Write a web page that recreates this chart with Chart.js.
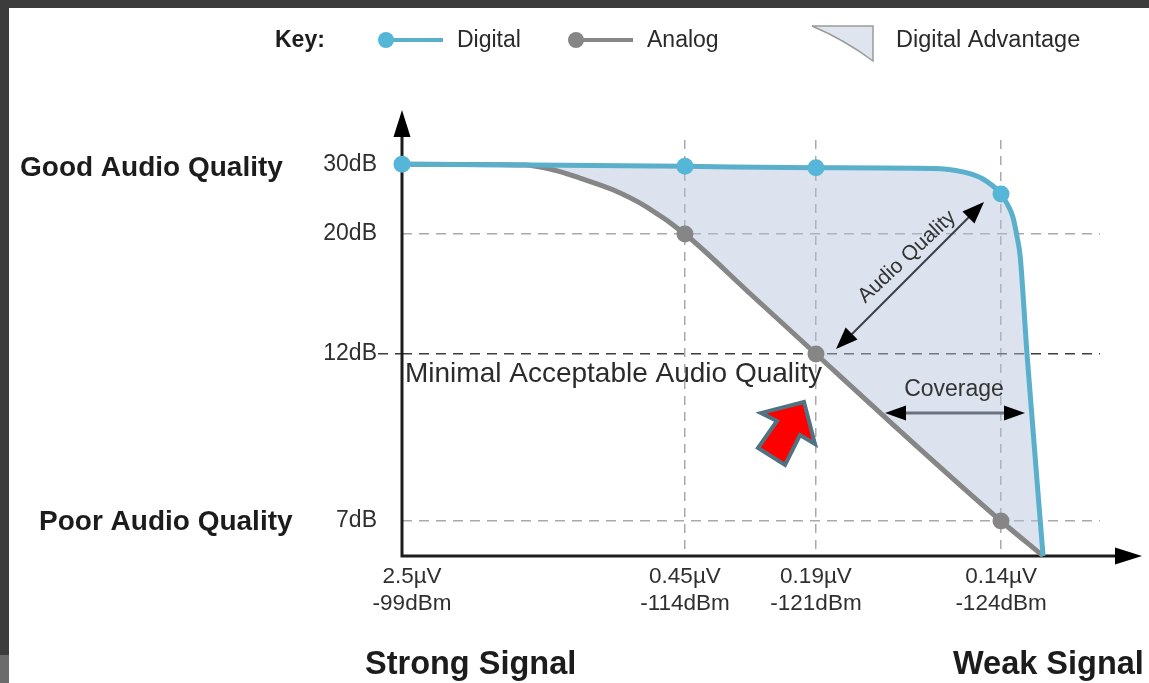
<!DOCTYPE html>
<html>
<head>
<meta charset="utf-8">
<title>Digital vs Analog audio quality</title>
<script src="https://cdn.jsdelivr.net/npm/chart.js@4"></script>
<style>
  html, body { margin: 0; padding: 0; background: #3c3c3c; overflow: hidden; }
  #wrap { position: absolute; left: 0; top: 0; width: 1149px; height: 683px; }
  canvas { filter: blur(0.5px); }
</style>
</head>
<body>
<div id="wrap"><canvas id="qualityChart" width="1149" height="683"></canvas></div>
<script>
// signal level (dBm) and audio quality (dB)
const xTicks = [-99, -114, -121, -124];
const xLabels = [["2.5\u00b5V", "-99dBm"], ["0.45\u00b5V", "-114dBm"], ["0.19\u00b5V", "-121dBm"], ["0.14\u00b5V", "-124dBm"]];
const yTicks = [30, 20, 12, 7];
const yLabels = ["30dB", "20dB", "12dB", "7dB"];

const digitalX = [-99, -105.8, -114, -121, -122.9, -123.38, -123.7, -124, -124.11, -124.19, -124.26, -124.31, -124.42, -124.68];
const digitalY = [30.1, 30, 29.8, 29.6, 29.5, 29, 28, 25.8, 24.2, 22.5, 19.8, 18.5, 12, 0];
const analogX = [-99, -105.5, -107, -108.43, -110.18, -111.98, -114, -117.5, -121, -122.36, -124, -124.68];
const analogY = [30.1, 30, 29.3, 28.1, 26.4, 23.9, 20, 16, 12, 9.7, 7, 0];
const digitalMarkers = [-99, -114, -121, -124];
const analogMarkers = [-114, -121, -124];

const BLUE = "#5aafcb", BLUE_DOT = "#56b6d8", GREY = "#868686", SHADE = "rgba(178,194,220,0.45)";
const FONT = '"Liberation Sans", Arial, sans-serif';

// axis is not to scale in the original, so each axis gets its own stops
class StopsScale extends Chart.LinearScale {
  static id = "stops";
  static defaults = Chart.LinearScale.defaults;
  frac(v) {
    const s = this.options.stops;
    for (let i = 1; i < s.length; i++) {
      if (v <= s[i][0] || i === s.length - 1) {
        const t = (v - s[i - 1][0]) / (s[i][0] - s[i - 1][0]);
        return s[i - 1][1] + t * (s[i][1] - s[i - 1][1]);
      }
    }
  }
  getPixelForValue(v) {
    const f = this.frac(v);
    return this.isHorizontal() ? this.left + (1 - f) * this.width : this.bottom - f * this.height;
  }
  _computeLabelItems(area) {
    const items = super._computeLabelItems(area);
    // first x label sits a little right of its tick
    if (this.isHorizontal() && items[0]) items[0].options.translation[0] += 10;
    return items;
  }
}
Chart.register(StopsScale);

function arrowHead(ctx, x0, y0, x1, y1, len, wide) {
  const a = Math.atan2(y1 - y0, x1 - x0);
  ctx.save();
  ctx.translate(x1, y1);
  ctx.rotate(a);
  ctx.beginPath();
  ctx.moveTo(0, 0);
  ctx.lineTo(-len, -wide / 2);
  ctx.lineTo(-len, wide / 2);
  ctx.closePath();
  ctx.fill();
  ctx.restore();
}

function label(ctx, text, x, y, font, color, align) {
  ctx.font = font + " " + FONT;
  ctx.fillStyle = color;
  ctx.textAlign = align || "left";
  ctx.textBaseline = "middle";
  ctx.fillText(text, x, y);
}

const frame = {
  id: "frame",
  beforeDraw(chart) {
    const ctx = chart.ctx;
    ctx.save();
    ctx.fillStyle = "#3c3c3c";
    ctx.fillRect(0, 0, 1149, 683);
    ctx.fillStyle = "#6b6b6b";
    ctx.fillRect(0, 655, 9, 28);
    ctx.fillStyle = "#ffffff";
    ctx.fillRect(9, 8, 1140, 675);
    ctx.restore();
  }
};

// axis arrows go under the curves, the first marker sits on top of the y axis
const axes = {
  id: "axes",
  beforeDatasetsDraw(chart) {
    const ctx = chart.ctx, area = chart.chartArea;
    ctx.save();
    ctx.strokeStyle = "#1c1c1c";
    ctx.fillStyle = "#000";
    ctx.lineWidth = 3;
    ctx.beginPath();
    ctx.moveTo(area.left, 132);
    ctx.lineTo(area.left, area.bottom);
    ctx.lineTo(1120, area.bottom);
    ctx.stroke();
    arrowHead(ctx, area.left, 140, area.left, 110, 27, 17);
    arrowHead(ctx, 1100, area.bottom, 1142, area.bottom, 27, 17);
    ctx.restore();
  }
};

const notes = {
  id: "notes",
  afterDatasetsDraw(chart) {
    const ctx = chart.ctx, y = chart.scales.y;
    ctx.save();

    // legend
    label(ctx, "Key:", 275, 41, "bold 23px", "#1c1c1c");
    ctx.lineWidth = 4;
    ctx.strokeStyle = BLUE;
    ctx.beginPath(); ctx.moveTo(386, 40); ctx.lineTo(443, 40); ctx.stroke();
    ctx.fillStyle = BLUE_DOT;
    ctx.beginPath(); ctx.arc(386, 40, 8, 0, Math.PI * 2); ctx.fill();
    label(ctx, chart.data.datasets[0].label, 457, 41, "23px", "#2a2a2a");
    ctx.strokeStyle = GREY;
    ctx.beginPath(); ctx.moveTo(576, 40); ctx.lineTo(633, 40); ctx.stroke();
    ctx.fillStyle = GREY;
    ctx.beginPath(); ctx.arc(576, 40, 8, 0, Math.PI * 2); ctx.fill();
    label(ctx, chart.data.datasets[1].label, 647, 41, "23px", "#2a2a2a");
    ctx.fillStyle = "#dfe5ee";
    ctx.strokeStyle = "#9a9a9a";
    ctx.lineWidth = 1.5;
    ctx.beginPath();
    ctx.moveTo(812, 26);
    ctx.lineTo(873, 26);
    ctx.lineTo(873, 61);
    ctx.quadraticCurveTo(845, 40, 812, 26);
    ctx.fill();
    ctx.stroke();
    label(ctx, "Digital Advantage", 896, 41, "23.5px", "#2a2a2a");

    // side and bottom captions
    label(ctx, "Good Audio Quality", 20, y.getPixelForValue(30) + 3, "bold 28px", "#1c1c1c");
    label(ctx, "Poor Audio Quality", 39, y.getPixelForValue(7) + 1, "bold 28px", "#1c1c1c");
    label(ctx, "Strong Signal", 365, 665, "bold 32.5px", "#1c1c1c");
    label(ctx, "Weak Signal", 953, 665, "bold 32.5px", "#1c1c1c");
    label(ctx, "Minimal Acceptable Audio Quality", 405, 374, "28px", "#2b2b2b");

    // double arrows
    ctx.strokeStyle = "#3a3f48";
    ctx.fillStyle = "#000";
    ctx.lineWidth = 2;
    ctx.beginPath(); ctx.moveTo(974, 212); ctx.lineTo(847, 339); ctx.stroke();
    arrowHead(ctx, 847, 339, 984, 202, 22, 17);
    arrowHead(ctx, 974, 212, 836, 349, 22, 17);
    ctx.save();
    ctx.translate(907, 257);
    ctx.rotate(-43 * Math.PI / 180);
    label(ctx, "Audio Quality", 0, 0, "21px", "#333", "center");
    ctx.restore();

    ctx.strokeStyle = "#6a7280";
    ctx.lineWidth = 3;
    ctx.beginPath(); ctx.moveTo(900, 413); ctx.lineTo(1010, 413); ctx.stroke();
    arrowHead(ctx, 960, 413, 885, 413, 21, 15);
    arrowHead(ctx, 960, 413, 1025, 413, 21, 15);
    label(ctx, "Coverage", 954, 390, "23px", "#333", "center");

    // red call-out arrow
    ctx.fillStyle = "#ff0000";
    ctx.strokeStyle = "#4f7380";
    ctx.lineWidth = 4;
    ctx.lineJoin = "miter";
    ctx.beginPath();
    ctx.moveTo(804, 402);
    ctx.lineTo(815, 444);
    ctx.lineTo(800, 435);
    ctx.lineTo(785, 465);
    ctx.lineTo(758, 448);
    ctx.lineTo(777, 421);
    ctx.lineTo(761, 413);
    ctx.closePath();
    ctx.fill();
    ctx.stroke();
    ctx.restore();
  }
};

const pairs = (xs, ys) => xs.map((x, i) => ({ x: x, y: ys[i] }));
const tickIs = (c, v) => c.tick && c.tick.value === v;

new Chart(document.getElementById("qualityChart"), {
  type: "line",
  data: {
    datasets: [
      {
        label: "Digital",
        data: pairs(digitalX, digitalY),
        borderColor: BLUE,
        borderWidth: 5,
        cubicInterpolationMode: "monotone",
        backgroundColor: BLUE_DOT,
        pointBackgroundColor: BLUE_DOT,
        pointBorderWidth: 0,
        pointRadius: c => digitalMarkers.includes(digitalX[c.dataIndex]) ? 8.5 : 0,
        fill: { target: 1, above: SHADE, below: SHADE },
        clip: false,
        order: 1
      },
      {
        label: "Analog",
        data: pairs(analogX, analogY),
        borderColor: GREY,
        borderWidth: 5,
        cubicInterpolationMode: "monotone",
        pointBackgroundColor: GREY,
        pointBorderWidth: 0,
        pointRadius: c => analogMarkers.includes(analogX[c.dataIndex]) ? 8.5 : 0,
        fill: false,
        clip: false,
        order: 2
      }
    ]
  },
  options: {
    responsive: false,
    animation: false,
    layout: { padding: { top: 140, right: 49, left: 0, bottom: 0 } },
    plugins: {
      legend: { display: false },
      tooltip: { enabled: false },
      filler: { drawTime: "beforeDatasetsDraw" }
    },
    scales: {
      x: {
        type: "stops",
        min: -125.6,
        max: -99,
        stops: [[-125.6, 0], [-124, 0.1418], [-121, 0.4069], [-114, 0.5946], [-99, 1]],
        afterFit: s => { s.height = 127; },
        afterBuildTicks: s => { s.ticks = xTicks.map(v => ({ value: v })); },
        border: { display: false, dash: [9, 7] },
        grid: { color: "#a9a9a9", lineWidth: 1.5, drawTicks: false },
        ticks: {
          autoSkip: false,
          maxRotation: 0,
          padding: 8,
          color: "#2f2f2f",
          font: { family: FONT, size: 22.5, lineHeight: 1.18 },
          callback: v => xLabels[xTicks.indexOf(v)]
        }
      },
      y: {
        type: "stops",
        min: 0,
        max: 33,
        stops: [[0, 0], [7, 0.0841], [12, 0.4856], [20, 0.774], [30, 0.94], [33, 1]],
        afterFit: s => { s.width = 402; },
        afterBuildTicks: s => { s.ticks = yTicks.map(v => ({ value: v })); },
        border: { display: false, dash: [10, 7] },
        grid: {
          color: c => tickIs(c, 30) ? "rgba(0,0,0,0)" : tickIs(c, 12) ? "#3d3d3d" : "#a9a9a9",
          lineWidth: 1.5,
          tickLength: 24,
          tickColor: c => tickIs(c, 12) ? "#3d3d3d" : "rgba(0,0,0,0)",
          tickBorderDash: [10, 7]
        },
        ticks: {
          autoSkip: false,
          padding: 1,
          color: "#2f2f2f",
          font: { family: FONT, size: 23 },
          callback: v => yLabels[yTicks.indexOf(v)]
        }
      }
    }
  },
  plugins: [frame, axes, notes]
});
</script>
</body>
</html>
